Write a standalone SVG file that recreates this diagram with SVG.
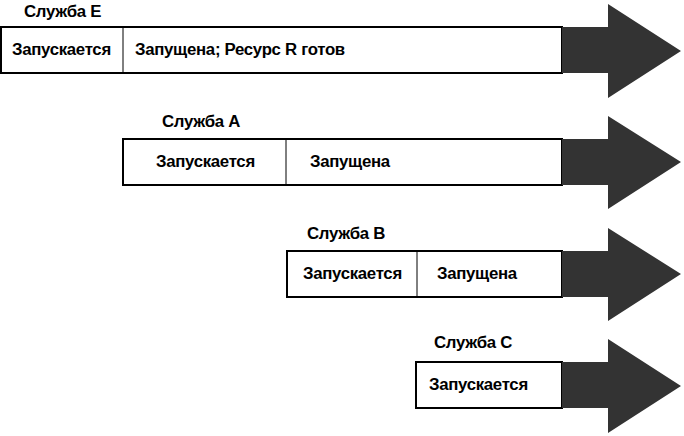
<svg xmlns="http://www.w3.org/2000/svg" width="684" height="436" viewBox="0 0 684 436">
<style>
.bar{fill:#fff;stroke:#000;stroke-width:2}
.div{stroke:#000;stroke-width:1}
.head{fill:#333}
text{font-family:"Liberation Sans",Arial,sans-serif;font-size:16.8px;font-weight:bold;fill:#000;letter-spacing:-0.3px}
</style>
<rect width="684" height="436" fill="#fff"/>
<g id="service-e">
<text x="24" y="17">Служба E</text>
<rect class="bar" x="1" y="27" width="561" height="46"/>
<line class="div" x1="123" y1="27" x2="123" y2="73"/>
<path class="head" d="M562,27H608V4L681,51L608,98V73H562Z"/>
<text x="12" y="55">Запускается</text>
<text x="135" y="55">Запущена; Ресурс R готов</text>
</g>
<g id="service-a">
<text x="162" y="127">Служба A</text>
<rect class="bar" x="123" y="139" width="439" height="46"/>
<line class="div" x1="286" y1="139" x2="286" y2="185"/>
<path class="head" d="M562,139H608V116L681,162L608,209V185H562Z"/>
<text x="156" y="167">Запускается</text>
<text x="310" y="167">Запущена</text>
</g>
<g id="service-b">
<text x="307" y="239">Служба B</text>
<rect class="bar" x="287" y="251" width="275" height="46"/>
<line class="div" x1="417" y1="251" x2="417" y2="297"/>
<path class="head" d="M562,251H608V228L681,274L608,321V297H562Z"/>
<text x="303" y="279">Запускается</text>
<text x="437" y="279">Запущена</text>
</g>
<g id="service-c">
<text x="434" y="348">Служба C</text>
<rect class="bar" x="416" y="362" width="146" height="46"/>
<path class="head" d="M562,362H608V339L681,386L608,433V408H562Z"/>
<text x="429" y="390">Запускается</text>
</g>
</svg>
